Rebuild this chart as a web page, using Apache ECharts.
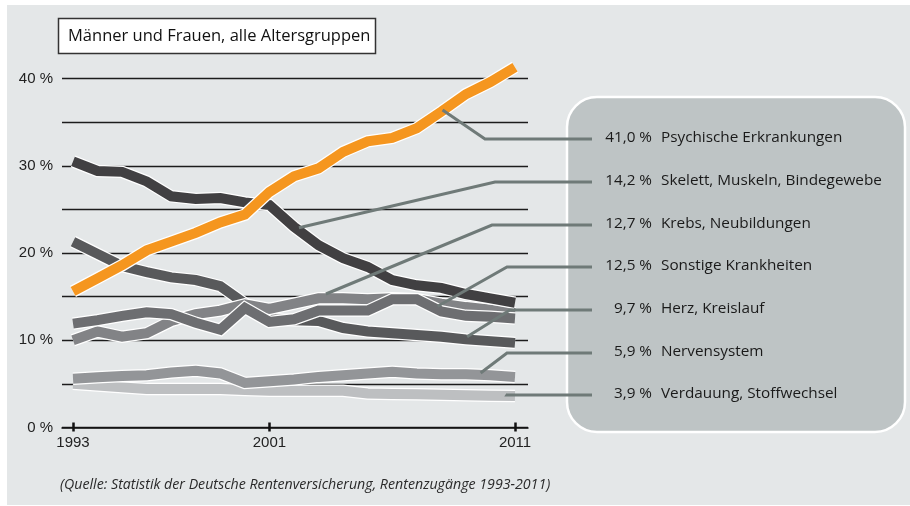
<!DOCTYPE html>
<html><head><meta charset="utf-8">
<script src="https://cdn.jsdelivr.net/npm/echarts@6/dist/echarts.min.js"></script>
<style>html,body{margin:0;padding:0;background:#fff}#c{width:910px;height:506px}</style>
</head><body><div id="c"></div>
<script>
// ---- data ----
const years = [1993,1994,1995,1996,1997,1998,1999,2000,2001,2002,2003,2004,2005,2006,2007,2008,2009,2010,2011];
const psychische = [15.6,17.1,18.6,20.3,21.3,22.3,23.5,24.4,27.0,28.8,29.7,31.6,32.8,33.2,34.3,36.2,38.2,39.6,41.3];
const skelett    = [30.5,29.4,29.3,28.2,26.5,26.2,26.3,25.8,25.5,23.0,20.9,19.4,18.4,16.9,16.3,16.0,15.3,14.8,14.3];
const krebs      = [10.0,11.0,10.4,10.8,12.2,13.0,13.4,14.1,13.6,14.2,14.8,14.8,14.7,14.8,14.7,14.2,13.8,13.5,13.1];
const sonstige   = [11.9,12.3,12.8,13.2,13.0,12.0,11.2,13.7,12.1,12.4,13.4,13.4,13.4,14.7,14.7,13.3,12.8,12.7,12.5];
const herz       = [21.3,19.9,18.5,17.8,17.2,16.9,16.2,14.2,12.4,12.3,12.2,11.4,11.0,10.8,10.6,10.4,10.1,9.9,9.7];
const nerven     = [5.6,5.75,5.9,6.0,6.3,6.5,6.2,5.1,5.3,5.5,5.8,6.0,6.2,6.4,6.2,6.1,6.1,6.0,5.8];
const verdauung  = [5.0,4.8,4.6,4.4,4.4,4.4,4.4,4.3,4.2,4.2,4.2,4.2,3.9,3.85,3.8,3.75,3.7,3.65,3.6];

const legendNames  = ['Psychische Erkrankungen','Skelett, Muskeln, Bindegewebe','Krebs, Neubildungen','Sonstige Krankheiten','Herz, Kreislauf','Nervensystem','Verdauung, Stoffwechsel'];
const legendValues = [41.0,14.2,12.7,12.5,9.7,5.9,3.9];
const xTickYears = [1993,2001,2011];
const yTicks = [0,10,20,30,40];
const titleText = 'Männer und Frauen, alle Altersgruppen';
const sourceText = '(Quelle: Statistik der Deutsche Rentenversicherung, Rentenzugänge 1993-2011)';
// leader anchor points (data coords) on each series, in legend order
const leaderAnchors = [[2008.05,36.4],[2002.2,22.9],[2003.3,15.3],[2007.85,13.9],[2009.05,10.4],[2009.6,6.25],[2010.7,3.84]];

// ---- styling ----
const colors = {psychische:'#f5961f', skelett:'#414042', herz:'#58595b', sonstige:'#6d6e71', krebs:'#828386', nerven:'#939598', verdauung:'#bdbfc1'};
const drawOrder = [
  ['verdauung',verdauung],['nerven',nerven],['herz',herz],['krebs',krebs],
  ['sonstige',sonstige],['skelett',skelett],['psychische',psychische]
];
const series = [];
drawOrder.forEach(([key,vals]) => {
  const data = years.map((y,i)=>[y,vals[i]]);
  series.push({type:'line', data, symbol:'none', silent:true, clip:false, animation:false,
    lineStyle:{color:'#ffffff', width:12.5, cap:'butt', join:'miter'}});
  series.push({type:'line', data, symbol:'none', silent:true, clip:false, animation:false,
    lineStyle:{color:colors[key], width:10, cap:'butt', join:'miter'}});
});

const FONT = '"Open Sans", "DejaVu Sans", sans-serif';
const NUMFONT = '"Liberation Sans", Arial, sans-serif';

const chart = echarts.init(document.getElementById('c'), null, {renderer:'canvas'});
const xMin = 1992.552, xMax = 2011.529;
chart.setOption({
  animation:false,
  grid:{left:62, right:382, top:78.5, bottom:78.5, containLabel:false},
  xAxis:[{
    type:'value', min:xMin, max:xMax, position:'bottom',
    axisLine:{show:true, lineStyle:{color:'#111', width:1.5}},
    axisTick:{show:true, customValues:xTickYears, length:4, lineStyle:{color:'#111', width:2.5}},
    axisLabel:{show:true, customValues:xTickYears, formatter:v=>String(v), color:'#222', fontSize:15, fontFamily:NUMFONT, margin:8},
    splitLine:{show:false}
  },{
    type:'value', min:xMin, max:xMax, position:'bottom', offset:0,
    axisLine:{show:false},
    axisTick:{show:true, inside:true, customValues:xTickYears, length:5, lineStyle:{color:'#111', width:2.5}},
    axisLabel:{show:false}, splitLine:{show:false}
  }],
  yAxis:{
    type:'value', min:0, max:40, interval:5,
    axisLine:{show:false}, axisTick:{show:false},
    axisLabel:{color:'#222', fontSize:15, fontFamily:NUMFONT, margin:9,
      formatter:v=> yTicks.includes(v) ? v+' %' : ''},
    splitLine:{show:true, lineStyle:{color:'#1c1c1c', width:1.4}}
  },
  series
});

// ---- annotations ----
const rowY = [138, 181, 224, 266, 309, 352, 394];
const elbowX = [485, 495, 492, 507, 510, 507, 507];
const graphics = [];
graphics.push({type:'rect', z:-100, silent:true, shape:{x:7,y:5,width:903,height:500}, style:{fill:'#e4e7e8'}});
graphics.push({type:'rect', z:100, shape:{x:58.5,y:18.5,width:317,height:35}, style:{fill:'#ffffff', stroke:'#333', lineWidth:1.5}});
graphics.push({type:'text', z:101, style:{text:titleText, x:68, y:36.5, font:'16.5px '+FONT, fill:'#111', textVerticalAlign:'middle'}});
graphics.push({type:'rect', z:90, shape:{x:567,y:97,width:338,height:335,r:30}, style:{fill:'#bec4c5', stroke:'#ffffff', lineWidth:2.5}});
leaderAnchors.forEach((a,i)=>{
  const p = chart.convertToPixel({gridIndex:0}, a);
  const pts = [p, [elbowX[i], rowY[i]+1], [592, rowY[i]+1]];
  graphics.push({type:'polyline', z:95, silent:true, shape:{points:pts}, style:{stroke:'#6f7a78', lineWidth:3, fill:null}});
  graphics.push({type:'text', z:101, style:{text:legendValues[i].toFixed(1).replace('.',',')+' %', x:652, y:rowY[i], font:'15.3px '+FONT, fill:'#1a1a1a', textAlign:'right', textVerticalAlign:'middle'}});
  graphics.push({type:'text', z:101, style:{text:legendNames[i], x:661, y:rowY[i], font:'15.3px '+FONT, fill:'#1a1a1a', textAlign:'left', textVerticalAlign:'middle'}});
});
graphics.push({type:'text', z:101, style:{text:sourceText, x:60, y:485, font:'italic 14.2px '+FONT, fill:'#2a2a2a', textVerticalAlign:'middle'}});
chart.setOption({graphic:{elements:graphics}});
</script></body></html>
